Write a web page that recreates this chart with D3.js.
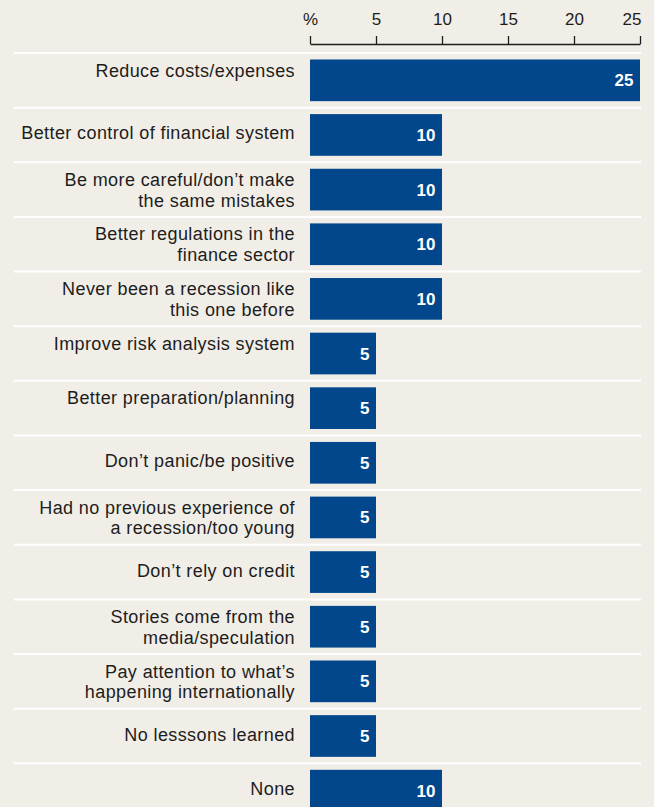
<!DOCTYPE html>
<html>
<head>
<meta charset="utf-8">
<script src="https://cdn.jsdelivr.net/npm/d3@7"></script>
<style>
  html, body { margin: 0; padding: 0; background: #f1eee8; }
  svg { display: block; }
</style>
</head>
<body>
<svg id="chart" width="654" height="807"></svg>
<script>
// Responses (%). A trailing "\n" keeps a one-line label on the first of two lines.
const categories = [
  "Reduce costs/expenses\n",
  "Better control of financial system",
  "Be more careful/don\u2019t make\nthe same mistakes",
  "Better regulations in the\nfinance sector",
  "Never been a recession like\nthis one before",
  "Improve risk analysis system\n",
  "Better preparation/planning\n",
  "Don\u2019t panic/be positive",
  "Had no previous experience of\na recession/too young",
  "Don\u2019t rely on credit",
  "Stories come from the\nmedia/speculation",
  "Pay attention to what\u2019s\nhappening internationally",
  "No lesssons learned",
  "None"
];
const values = [25, 10, 10, 10, 10, 5, 5, 5, 5, 5, 5, 5, 5, 10];
const tickValues = [0, 5, 10, 15, 20, 25];
const tickLabels = ["%", "5", "10", "15", "20", "25"];

const data = categories.map((c, i) => ({ key: c, lines: c.split("\n"), value: values[i] }));

const svg = d3.select("#chart");
const BLUE = "#02478b";
const INK = "#1d1d1b";

const x = d3.scaleLinear().domain([0, 25]).range([310, 640]);
const rowStep = 54.64;
const y = d3.scaleBand()
  .domain(categories)
  .range([53, 53 + rowStep * categories.length])
  .paddingInner(0.237)
  .paddingOuter(0.1185);

// Top axis
const axis = d3.axisTop(x)
  .tickValues(tickValues)
  .tickFormat((d, i) => tickLabels[i])
  .tickSizeInner(8)
  .tickSizeOuter(0)
  .tickPadding(11);

const gAxis = svg.append("g")
  .attr("transform", "translate(0,44)")
  .call(axis);
gAxis.select(".domain").attr("stroke", INK).attr("stroke-width", 1.3);
gAxis.selectAll(".tick line").attr("stroke", INK).attr("stroke-width", 1.3);
gAxis.selectAll(".tick text")
  .attr("fill", INK)
  .attr("font-family", "'Liberation Sans', Arial, sans-serif")
  .attr("font-size", 17)
  .attr("text-anchor", d => d === 25 ? "end" : "middle")
  .attr("dx", d => d === 25 ? 1 : 0);

// Row separators
const step = y.step();
const sepY = d3.range(categories.length + 1).map(i => y.range()[0] + i * step);
svg.append("g").selectAll("line")
  .data(sepY)
  .join("line")
  .attr("x1", 14).attr("x2", 641)
  .attr("y1", d => d).attr("y2", d => d)
  .attr("stroke", "#ffffff")
  .attr("stroke-width", 2);

// Bars
const rows = svg.append("g").selectAll("g")
  .data(data)
  .join("g");

rows.append("rect")
  .attr("x", x(0))
  .attr("y", d => y(d.key))
  .attr("width", d => x(d.value) - x(0))
  .attr("height", y.bandwidth())
  .attr("fill", BLUE);

// Value labels
rows.append("text")
  .attr("x", d => x(d.value) - 6.5)
  .attr("y", d => y(d.key) + y.bandwidth() / 2 + 6)
  .attr("text-anchor", "end")
  .attr("fill", "#ffffff")
  .attr("font-family", "'Liberation Sans', Arial, sans-serif")
  .attr("font-weight", "bold")
  .attr("font-size", 17)
  .text(d => d.value);

// Category labels
const labels = rows.append("text")
  .attr("text-anchor", "end")
  .attr("fill", INK)
  .attr("font-family", "'Liberation Sans', Arial, sans-serif")
  .attr("font-size", 18)
  .attr("letter-spacing", 0.4);

labels.each(function(d) {
  const cy = y(d.key) + y.bandwidth() / 2;
  const t = d3.select(this);
  if (d.lines.length === 1) {
    t.append("tspan").attr("x", 295).attr("y", cy + 4.5).text(d.lines[0]);
  } else {
    d.lines.forEach((ln, j) => {
      if (ln) t.append("tspan").attr("x", 295).attr("y", cy - 3.8 + j * 20.7).text(ln);
    });
  }
});
</script>
</body>
</html>
